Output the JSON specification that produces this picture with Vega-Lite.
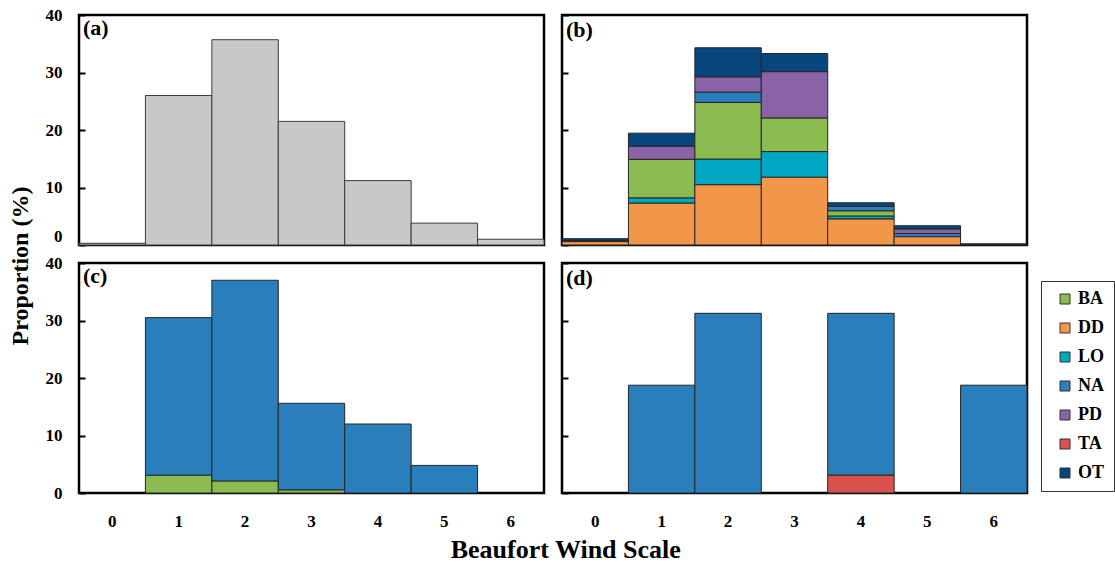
{
  "$schema": "https://vega.github.io/schema/vega-lite/v6.json",
  "background": "white",
  "padding": {"left": 8, "top": 4, "right": 2, "bottom": 2},
  "title": {"text": "Proportion (%)", "orient": "left", "anchor": "middle", "fontSize": 24, "offset": 11, "dx": 18},
  "config": {
    "font": "Liberation Serif",
    "view": {"stroke": "black", "strokeWidth": 2.5},
    "title": {"font": "Liberation Serif", "fontWeight": "bold", "color": "black"},
    "axis": {"labelFont": "Liberation Serif", "labelFontWeight": "bold", "labelColor": "black", "labelFontSize": 17, "grid": false, "domain": false, "title": null},
    "bar": {"stroke": "#262626", "strokeWidth": 1}
  },
  "datasets": {
    "a": [
      {"wind": 0, "value": 0.3}, {"wind": 1, "value": 26.0}, {"wind": 2, "value": 35.7},
      {"wind": 3, "value": 21.5}, {"wind": 4, "value": 11.2}, {"wind": 5, "value": 3.8}, {"wind": 6, "value": 1.0}
    ],
    "b": [
      {"wind": 0, "group": "DD", "rank": 1, "value": 0.6},
      {"wind": 0, "group": "NA", "rank": 5, "value": 0.2},
      {"wind": 0, "group": "OT", "rank": 7, "value": 0.3},
      {"wind": 1, "group": "DD", "rank": 1, "value": 7.3},
      {"wind": 1, "group": "LO", "rank": 2, "value": 0.9},
      {"wind": 1, "group": "BA", "rank": 3, "value": 6.7},
      {"wind": 1, "group": "PD", "rank": 6, "value": 2.3},
      {"wind": 1, "group": "OT", "rank": 7, "value": 2.25},
      {"wind": 2, "group": "DD", "rank": 1, "value": 10.5},
      {"wind": 2, "group": "LO", "rank": 2, "value": 4.45},
      {"wind": 2, "group": "BA", "rank": 3, "value": 9.85},
      {"wind": 2, "group": "NA", "rank": 5, "value": 1.8},
      {"wind": 2, "group": "PD", "rank": 6, "value": 2.65},
      {"wind": 2, "group": "OT", "rank": 7, "value": 5.05},
      {"wind": 3, "group": "DD", "rank": 1, "value": 11.8},
      {"wind": 3, "group": "LO", "rank": 2, "value": 4.45},
      {"wind": 3, "group": "BA", "rank": 3, "value": 5.85},
      {"wind": 3, "group": "PD", "rank": 6, "value": 8.05},
      {"wind": 3, "group": "OT", "rank": 7, "value": 3.15},
      {"wind": 4, "group": "DD", "rank": 1, "value": 4.55},
      {"wind": 4, "group": "LO", "rank": 2, "value": 0.5},
      {"wind": 4, "group": "BA", "rank": 3, "value": 0.9},
      {"wind": 4, "group": "NA", "rank": 5, "value": 0.8},
      {"wind": 4, "group": "OT", "rank": 7, "value": 0.6},
      {"wind": 5, "group": "DD", "rank": 1, "value": 1.45},
      {"wind": 5, "group": "NA", "rank": 5, "value": 0.55},
      {"wind": 5, "group": "PD", "rank": 6, "value": 0.8},
      {"wind": 5, "group": "OT", "rank": 7, "value": 0.55},
      {"wind": 6, "group": "OT", "rank": 7, "value": 0.2}
    ],
    "c": [
      {"wind": 1, "group": "BA", "rank": 3, "value": 3.1},
      {"wind": 1, "group": "NA", "rank": 5, "value": 27.4},
      {"wind": 2, "group": "BA", "rank": 3, "value": 2.1},
      {"wind": 2, "group": "NA", "rank": 5, "value": 34.9},
      {"wind": 3, "group": "BA", "rank": 3, "value": 0.55},
      {"wind": 3, "group": "NA", "rank": 5, "value": 15.05},
      {"wind": 4, "group": "NA", "rank": 5, "value": 12.0},
      {"wind": 5, "group": "NA", "rank": 5, "value": 4.8}
    ],
    "d": [
      {"wind": 1, "group": "NA", "rank": 5, "value": 18.75},
      {"wind": 2, "group": "NA", "rank": 5, "value": 31.25},
      {"wind": 4, "group": "TA", "rank": 4, "value": 3.125},
      {"wind": 4, "group": "NA", "rank": 5, "value": 28.125},
      {"wind": 6, "group": "NA", "rank": 5, "value": 18.75}
    ]
  },
  "resolve": {"scale": {"color": "shared"}, "legend": {"color": "independent"}},
  "spacing": 4,
  "vconcat": [
    {
      "spacing": 13,
      "resolve": {"scale": {"color": "shared"}, "legend": {"color": "independent"}},
      "hconcat": [
        {
          "width": 465, "height": 230,
          "data": {"name": "a"},
          "title": {"text": "(a)", "anchor": "start", "frame": "group", "fontSize": 22, "offset": -34, "dx": 4},
          "mark": {"type": "bar", "color": "#c8c8c8", "stroke": "#3a3a3a"},
          "encoding": {
            "x": {"field": "wind", "type": "ordinal", "scale": {"domain": [0, 1, 2, 3, 4, 5, 6], "paddingInner": 0, "paddingOuter": 0}, "axis": null},
            "y": {"field": "value", "type": "quantitative", "scale": {"domain": [0, 40]},
              "axis": {"values": [0, 10, 20, 30, 40], "tickSize": -6, "tickWidth": 2, "tickColor": "black", "labelPadding": 23,
                "labelBaseline": {"condition": {"test": "datum.value === 0", "value": "bottom"}, "value": "middle"}}}
          }
        },
        {
          "width": 465, "height": 230,
          "data": {"name": "b"},
          "title": {"text": "(b)", "anchor": "start", "frame": "group", "fontSize": 22, "offset": -28, "dx": 4},
          "mark": {"type": "bar"},
          "encoding": {
            "x": {"field": "wind", "type": "ordinal", "scale": {"domain": [0, 1, 2, 3, 4, 5, 6], "paddingInner": 0, "paddingOuter": 0}, "axis": null},
            "y": {"field": "value", "type": "quantitative", "stack": "zero", "scale": {"domain": [0, 40]},
              "axis": {"values": [0, 10, 20, 30, 40], "tickSize": -6, "tickWidth": 2, "tickColor": "black", "labels": false}},
            "color": {"field": "group", "type": "nominal", "legend": null,
              "scale": {"domain": ["BA", "DD", "LO", "NA", "PD", "TA", "OT"], "range": ["#8cbb52", "#f29649", "#00a8c3", "#2a7ebb", "#8a63a6", "#d9514e", "#08467e"]}},
            "order": {"field": "rank", "type": "quantitative", "sort": "ascending"}
          }
        }
      ]
    },
    {
      "spacing": 13,
      "resolve": {"scale": {"color": "shared"}, "legend": {"color": "independent"}},
      "title": {"text": "Beaufort Wind Scale", "orient": "bottom", "anchor": "middle", "fontSize": 26, "offset": 7, "dx": -14},
      "hconcat": [
        {
          "width": 465, "height": 230,
          "data": {"name": "c"},
          "title": {"text": "(c)", "anchor": "start", "frame": "group", "fontSize": 22, "offset": -34, "dx": 4},
          "mark": {"type": "bar"},
          "encoding": {
            "x": {"field": "wind", "type": "ordinal", "scale": {"domain": [0, 1, 2, 3, 4, 5, 6], "paddingInner": 0, "paddingOuter": 0},
              "axis": {"ticks": false, "labelAngle": 0, "labelPadding": 20}},
            "y": {"field": "value", "type": "quantitative", "stack": "zero", "scale": {"domain": [0, 40]},
              "axis": {"values": [0, 10, 20, 30, 40], "tickSize": -6, "tickWidth": 2, "tickColor": "black", "labelPadding": 23}},
            "color": {"field": "group", "type": "nominal", "legend": null,
              "scale": {"domain": ["BA", "DD", "LO", "NA", "PD", "TA", "OT"], "range": ["#8cbb52", "#f29649", "#00a8c3", "#2a7ebb", "#8a63a6", "#d9514e", "#08467e"]}},
            "order": {"field": "rank", "type": "quantitative", "sort": "ascending"}
          }
        },
        {
          "width": 465, "height": 230,
          "data": {"name": "d"},
          "title": {"text": "(d)", "anchor": "start", "frame": "group", "fontSize": 22, "offset": -28, "dx": 4},
          "mark": {"type": "bar"},
          "encoding": {
            "x": {"field": "wind", "type": "ordinal", "scale": {"domain": [0, 1, 2, 3, 4, 5, 6], "paddingInner": 0, "paddingOuter": 0},
              "axis": {"ticks": false, "labelAngle": 0, "labelPadding": 20}},
            "y": {"field": "value", "type": "quantitative", "stack": "zero", "scale": {"domain": [0, 40]},
              "axis": {"values": [0, 10, 20, 30, 40], "tickSize": -6, "tickWidth": 2, "tickColor": "black", "labels": false}},
            "color": {"field": "group", "type": "nominal",
              "scale": {"domain": ["BA", "DD", "LO", "NA", "PD", "TA", "OT"], "range": ["#8cbb52", "#f29649", "#00a8c3", "#2a7ebb", "#8a63a6", "#d9514e", "#08467e"]},
              "legend": {"orient": "none", "legendX": 479, "legendY": 18, "title": null, "symbolType": "square", "symbolSize": 100,
                "symbolStrokeColor": "#333", "symbolStrokeWidth": 1, "symbolOffset": 6, "labelFont": "Liberation Serif", "labelFontSize": 18,
                "labelFontWeight": "bold", "labelColor": "black", "labelOffset": 4, "rowPadding": 11, "padding": 9,
                "strokeColor": "#333", "fillColor": "white"}},
            "order": {"field": "rank", "type": "quantitative", "sort": "ascending"}
          }
        }
      ]
    }
  ]
}
